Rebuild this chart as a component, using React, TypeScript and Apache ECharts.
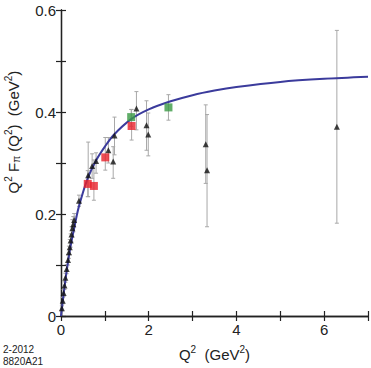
import React, { useEffect, useRef } from "react";
import * as echarts from "echarts";

// Model curve
const curveQ2 = [0, 0.1, 0.2, 0.3, 0.4, 0.6, 0.8, 1.0, 1.2, 1.6, 2.0, 2.5, 3.0, 3.5, 4.0, 5.0, 6.0, 7.0];
const curveF = [0, 0.07, 0.128, 0.172, 0.212, 0.268, 0.305, 0.332, 0.355, 0.386, 0.405, 0.421, 0.433, 0.442, 0.449, 0.459, 0.465, 0.469];

// Black triangles
const triQ2 = [0.02, 0.04, 0.06, 0.08, 0.1, 0.13, 0.16, 0.18, 0.2, 0.22, 0.24, 0.26, 0.28, 0.3, 0.41, 0.62, 0.71, 0.8, 1.08, 1.19, 1.22, 1.72, 1.95, 1.99, 3.3, 3.33, 6.29];
const triF = [0.015, 0.03, 0.045, 0.06, 0.075, 0.092, 0.11, 0.125, 0.135, 0.148, 0.16, 0.172, 0.18, 0.188, 0.226, 0.276, 0.294, 0.304, 0.325, 0.303, 0.354, 0.407, 0.374, 0.356, 0.337, 0.286, 0.371];
const triLo = [0.01, 0.024, 0.038, 0.052, 0.066, 0.083, 0.1, 0.113, 0.12, 0.135, 0.145, 0.155, 0.165, 0.175, 0.215, 0.234, 0.27, 0.28, 0.3, 0.27, 0.316, 0.365, 0.325, 0.314, 0.26, 0.175, 0.182];
const triHi = [0.02, 0.036, 0.052, 0.068, 0.084, 0.101, 0.12, 0.137, 0.15, 0.161, 0.175, 0.189, 0.195, 0.201, 0.237, 0.341, 0.318, 0.32, 0.35, 0.332, 0.39, 0.44, 0.422, 0.398, 0.414, 0.395, 0.56];

// Red squares
const redQ2 = [0.61, 0.75, 1.01, 1.61];
const redF = [0.259, 0.255, 0.311, 0.3725];
const redLo = [0.234, 0.227, 0.286, 0.345];
const redHi = [0.285, 0.306, 0.35, 0.405];

// Green squares
const greenQ2 = [1.6, 2.45];
const greenF = [0.39, 0.409];
const greenLo = [0.372, 0.384];
const greenHi = [0.405, 0.434];

const xTicks = [0, 2, 4, 6];
const yTicks = ["0", "0.2", "0.4", "0.6"];

const FONT = "Liberation Sans, Arial, Helvetica, sans-serif";

export default function App() {
  const ref = useRef<HTMLDivElement>(null);
  useEffect(() => {
    if (!ref.current) return;
    const chart = echarts.init(ref.current, undefined, { renderer: "svg" });

    const barData: number[][] = [];
    triQ2.forEach((q, i) => barData.push([q, triLo[i], triHi[i]]));
    redQ2.forEach((q, i) => barData.push([q, redLo[i], redHi[i]]));
    greenQ2.forEach((q, i) => barData.push([q, greenLo[i], greenHi[i]]));

    const axisLine = { show: true, lineStyle: { color: "#222", width: 1.3 } };
    const tick = { show: true, inside: true, length: 5, lineStyle: { color: "#222", width: 1.2 } };

    chart.setOption({
      animation: false,
      backgroundColor: "#fff",
      textStyle: { fontFamily: FONT },
      grid: { left: 61, right: 3, top: 10, bottom: 52, containLabel: false },
      xAxis: [
        {
          type: "value",
          min: 0,
          max: 7,
          interval: 1,
          axisLine,
          axisTick: tick,
          splitLine: { show: false },
          axisLabel: {
            color: "#222",
            fontSize: 15,
            fontFamily: FONT,
            margin: 6,
            formatter: (v: number) => (xTicks.includes(Math.round(v)) ? String(Math.round(v)) : ""),
          },
          name: "{a|Q}{s|2}{a|  (GeV}{s|2}{a|)}",
          nameLocation: "middle",
          nameGap: 28,
          nameTextStyle: {
            rich: {
              a: { fontSize: 15, fontFamily: FONT, color: "#222", lineHeight: 18, verticalAlign: "bottom" },
              s: { fontSize: 10, fontFamily: FONT, color: "#222", lineHeight: 18, verticalAlign: "top", padding: [0, 0, 6, 0] },
            },
          },
        },
        {
          type: "value",
          position: "top",
          min: 0,
          max: 7,
          interval: 1,
          axisLine,
          axisTick: tick,
          axisLabel: { show: false },
          splitLine: { show: false },
        },
      ],
      yAxis: [
        {
          type: "value",
          min: 0,
          max: 0.6,
          interval: 0.1,
          axisLine,
          axisTick: tick,
          splitLine: { show: false },
          axisLabel: {
            color: "#222",
            fontSize: 15,
            fontFamily: FONT,
            margin: 5,
            formatter: (v: number) => {
              const s = (Math.round(v * 10) / 10).toString();
              return yTicks.includes(s) ? s : "";
            },
          },
        },
        {
          type: "value",
          position: "right",
          min: 0,
          max: 0.6,
          interval: 0.1,
          axisLine,
          axisTick: tick,
          axisLabel: { show: false },
          splitLine: { show: false },
        },
      ],
      graphic: [
        {
          type: "text",
          x: 12,
          y: 132,
          rotation: Math.PI / 2,
          style: {
            text: "{a|Q}{s|2}{a| F}{b|π}{a| (Q}{s|2}{a|)  (GeV}{s|2}{a|)}",
            align: "center",
            verticalAlign: "middle",
            rich: {
              a: { fontSize: 15, fontFamily: FONT, fill: "#222", lineHeight: 18, verticalAlign: "bottom" },
              s: { fontSize: 10, fontFamily: FONT, fill: "#222", lineHeight: 18, verticalAlign: "top", padding: [0, 0, 6, 0] },
              b: { fontSize: 10, fontFamily: FONT, fill: "#222", lineHeight: 18, verticalAlign: "bottom", padding: [4, 0, 0, 0] },
            },
          },
        },
        {
          type: "text",
          x: 3,
          y: 343,
          style: {
            text: "2-2012\n8820A21",
            fontSize: 10,
            lineHeight: 12,
            fontFamily: FONT,
            fill: "#222",
          },
        },
      ],
      series: [
        {
          type: "custom",
          name: "errors",
          xAxisIndex: 0,
          yAxisIndex: 0,
          z: 1,
          encode: { x: 0, y: [1, 2] },
          data: barData,
          renderItem: (params: any, api: any) => {
            const x = api.value(0);
            const lo = api.value(1);
            const hi = api.value(2);
            const p1 = api.coord([x, hi]);
            const p2 = api.coord([x, lo]);
            const style = { stroke: "#a8a8a8", lineWidth: 1 };
            return {
              type: "group",
              children: [
                { type: "line", shape: { x1: p1[0], y1: p1[1], x2: p2[0], y2: p2[1] }, style },
                { type: "line", shape: { x1: p1[0] - 2, y1: p1[1], x2: p1[0] + 2, y2: p1[1] }, style },
                { type: "line", shape: { x1: p2[0] - 2, y1: p2[1], x2: p2[0] + 2, y2: p2[1] }, style },
              ],
            };
          },
        },
        {
          type: "line",
          name: "model",
          z: 2,
          smooth: 0.3,
          showSymbol: false,
          symbol: "none",
          data: curveQ2.map((q, i) => [q, curveF[i]]),
          lineStyle: { color: "#3b3b9c", width: 2 },
        },
        {
          type: "scatter",
          name: "tri",
          z: 3,
          symbol: "triangle",
          symbolSize: 6,
          itemStyle: { color: "#111" },
          data: triQ2.map((q, i) => [q, triF[i]]),
        },
        {
          type: "scatter",
          name: "red",
          z: 4,
          symbol: "rect",
          symbolSize: 8,
          itemStyle: { color: "#e8202a" },
          data: redQ2.map((q, i) => [q, redF[i]]),
        },
        {
          type: "scatter",
          name: "green",
          z: 4,
          symbol: "rect",
          symbolSize: 8,
          itemStyle: { color: "#3a9a44" },
          data: greenQ2.map((q, i) => [q, greenF[i]]),
        },
      ],
    });
    return () => chart.dispose();
  }, []);
  return <div ref={ref} style={{ width: 371, height: 368, position: "absolute", left: 0, top: 0 }} />;
}
